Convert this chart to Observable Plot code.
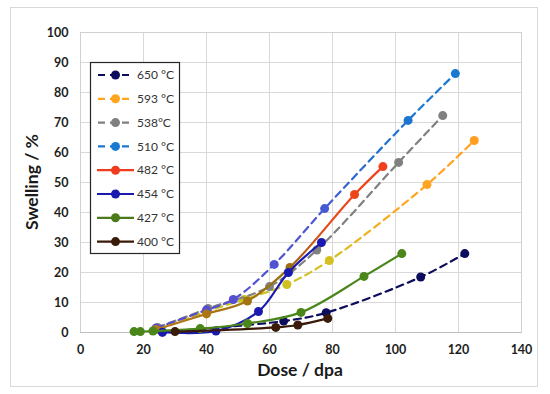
<!DOCTYPE html>
<html><head><meta charset="utf-8">
<script src="https://cdn.jsdelivr.net/npm/d3@7"></script>
<script src="https://cdn.jsdelivr.net/npm/@observablehq/plot@0.6"></script>
<style>
body{margin:0;background:#fff;font-family:Lato,"Open Sans",sans-serif}
#chart{position:relative;width:550px;height:394px}
</style>
</head><body><div id="chart"></div>
<script>
// ---- data ----
const seriesNames = ["650 °C","593 °C","538°C","510 °C","482 °C","454 °C","427 °C","400 °C"];
const dose650 = [26, 64.5, 78, 108, 122];
const swell650 = [0.2, 3.8, 6.6, 18.5, 26.3];
const dose593 = [25, 40, 52, 65.5, 79, 110, 125];
const swell593 = [1, 7, 11, 16, 24, 49.3, 64];
const dose538 = [24.5, 40.5, 60, 75, 101, 115];
const swell538 = [1.7, 8, 15.3, 27.5, 56.7, 72.3];
const dose510 = [24, 40, 48.5, 61.5, 77.5, 104, 119];
const swell510 = [1.5, 7.5, 11, 22.7, 41.3, 70.7, 86.3];
const dose482 = [24, 40, 53, 66.5, 87, 96];
const swell482 = [1, 6.2, 10.5, 21.7, 46, 55.3];
const dose454 = [26, 43, 56.5, 66, 76.5];
const swell454 = [0.1, 0.5, 7, 20, 30];
const dose427 = [17, 19, 23, 38, 53, 70, 90, 102];
const swell427 = [0.3, 0.3, 0.5, 1.3, 3, 6.7, 18.7, 26.3];
const dose400 = [30, 62, 69, 78.5];
const swell400 = [0.3, 1.7, 2.5, 4.7];
const xTicks = [0, 20, 40, 60, 80, 100, 120, 140];
const yTicks = [0, 10, 20, 30, 40, 50, 60, 70, 80, 90, 100];

const doses = [dose650, dose593, dose538, dose510, dose482, dose454, dose427, dose400];
const swells = [swell650, swell593, swell538, swell510, swell482, swell454, swell427, swell400];

// ---- styles ----
const styles = [
  {color:"#0d0d5e", dash:"7,5", legend:"#0d0d5e"},
  {color:"url(#g593)", dash:"7,5", legend:"#ffa51e", grad:["#c4c41e","#d4c020","#ffa820","#ffa020"]},
  {color:"#808080", dash:"7,5", legend:"#808080"},
  {color:"url(#g510)", dash:"7,5", legend:"#1a78d0", grad:["#5a4ad0","#4a58d2","#1f70d0","#1a7ad2"]},
  {color:"url(#g482)", dash:null, legend:"#f03c1e", grad:["#b87818","#957010","#e84a1a","#f0401e"]},
  {color:"#1a1ab0", dash:null, legend:"#1a1ab0"},
  {color:"#4a861a", dash:null, legend:"#4a7a1a"},
  {color:"#3a1a08", dash:null, legend:"#3a1a08"}
];

const tables = seriesNames.map((s, i) => doses[i].map((d, j) => ({series: s, dose: d, swell: swells[i][j]})));

const marks = [
  Plot.ruleX(xTicks, {stroke:"#d9d9d9", strokeWidth:1}),
  Plot.ruleY(yTicks, {stroke:"#d9d9d9", strokeWidth:1}),
  Plot.frame({stroke:"#d0d0d0"}),
  Plot.ruleY([0], {stroke:"#bfbfbf", strokeWidth:1})
];
tables.forEach((t, i) => {
  const st = styles[i];
  marks.push(Plot.line(t, {x:"dose", y:"swell", stroke: st.color, strokeWidth: 2.2,
    strokeDasharray: st.dash || undefined, curve: "catmull-rom"}));
  marks.push(Plot.dot(t, {x:"dose", y:"swell", r: 4.5, fill: st.color, stroke: "none"}));
});

const plot = Plot.plot({
  width: 550, height: 394,
  marginLeft: 80, marginRight: 29, marginTop: 32, marginBottom: 62,
  style: {fontFamily: "Lato, 'Open Sans', sans-serif", fontSize: "12.5px", fontWeight: "bold", color: "#1e1e1e", background: "white", overflow: "visible"},
  x: {domain: [0, 140], ticks: xTicks, tickSize: 0, tickPadding: 13, label: null},
  y: {domain: [0, 100], ticks: yTicks, tickSize: 0, tickPadding: 12, label: null},
  marks
});

const svg = d3.select(plot);
const xs = plot.scale("x"), ys = plot.scale("y");

// gradients derived from the scales
const defs = svg.insert("defs", ":first-child");
styles.forEach((st, i) => {
  if (!st.grad) return;
  const d = doses[i], s = swells[i];
  const id = st.color.slice(5, -1);
  const g = defs.append("linearGradient").attr("id", id).attr("gradientUnits", "userSpaceOnUse")
    .attr("x1", xs.apply(d[0])).attr("y1", ys.apply(s[0]))
    .attr("x2", xs.apply(d[d.length-1])).attr("y2", ys.apply(s[s.length-1]));
  const offs = [0, 0.5, 0.72, 1];
  st.grad.forEach((c, k) => g.append("stop").attr("offset", offs[k]).attr("stop-color", c));
});

// outer border
svg.insert("rect", "defs + *").attr("x", 10.5).attr("y", 7.5).attr("width", 527).attr("height", 379)
  .attr("fill", "none").attr("stroke", "#d9d9d9");

// axis titles
svg.append("text").attr("x", 300).attr("y", 376).attr("text-anchor", "middle")
  .attr("font-size", 17.5).attr("font-weight", "bold").attr("fill", "#1a1a1a").text("Dose / dpa");
svg.append("text").attr("transform", "translate(38,182) rotate(-90)").attr("text-anchor", "middle")
  .attr("font-size", 17.5).attr("font-weight", "bold").attr("fill", "#1a1a1a").text("Swelling / %");

// legend
const lg = svg.append("g");
lg.append("rect").attr("x", 90.5).attr("y", 62.5).attr("width", 89).attr("height", 191)
  .attr("fill", "white").attr("stroke", "#262626").attr("stroke-width", 1.2);
seriesNames.forEach((name, i) => {
  const y = 75 + i * 23.8;
  const st = styles[i];
  lg.append("line").attr("x1", 97).attr("x2", 134).attr("y1", y).attr("y2", y)
    .attr("stroke", st.legend).attr("stroke-width", 2.2)
    .attr("stroke-dasharray", st.dash ? "7,5" : null).attr("stroke-dashoffset", st.dash ? -1 : null);
  lg.append("circle").attr("cx", 115.5).attr("cy", y).attr("r", 4.5).attr("fill", st.legend);
  lg.append("text").attr("x", 137).attr("y", y).attr("dy", "0.35em").attr("font-size", 12)
    .attr("text-anchor", "start").attr("font-weight", "normal").attr("fill", "#333").text(name);
});

document.getElementById("chart").appendChild(plot);
</script>
</body></html>
